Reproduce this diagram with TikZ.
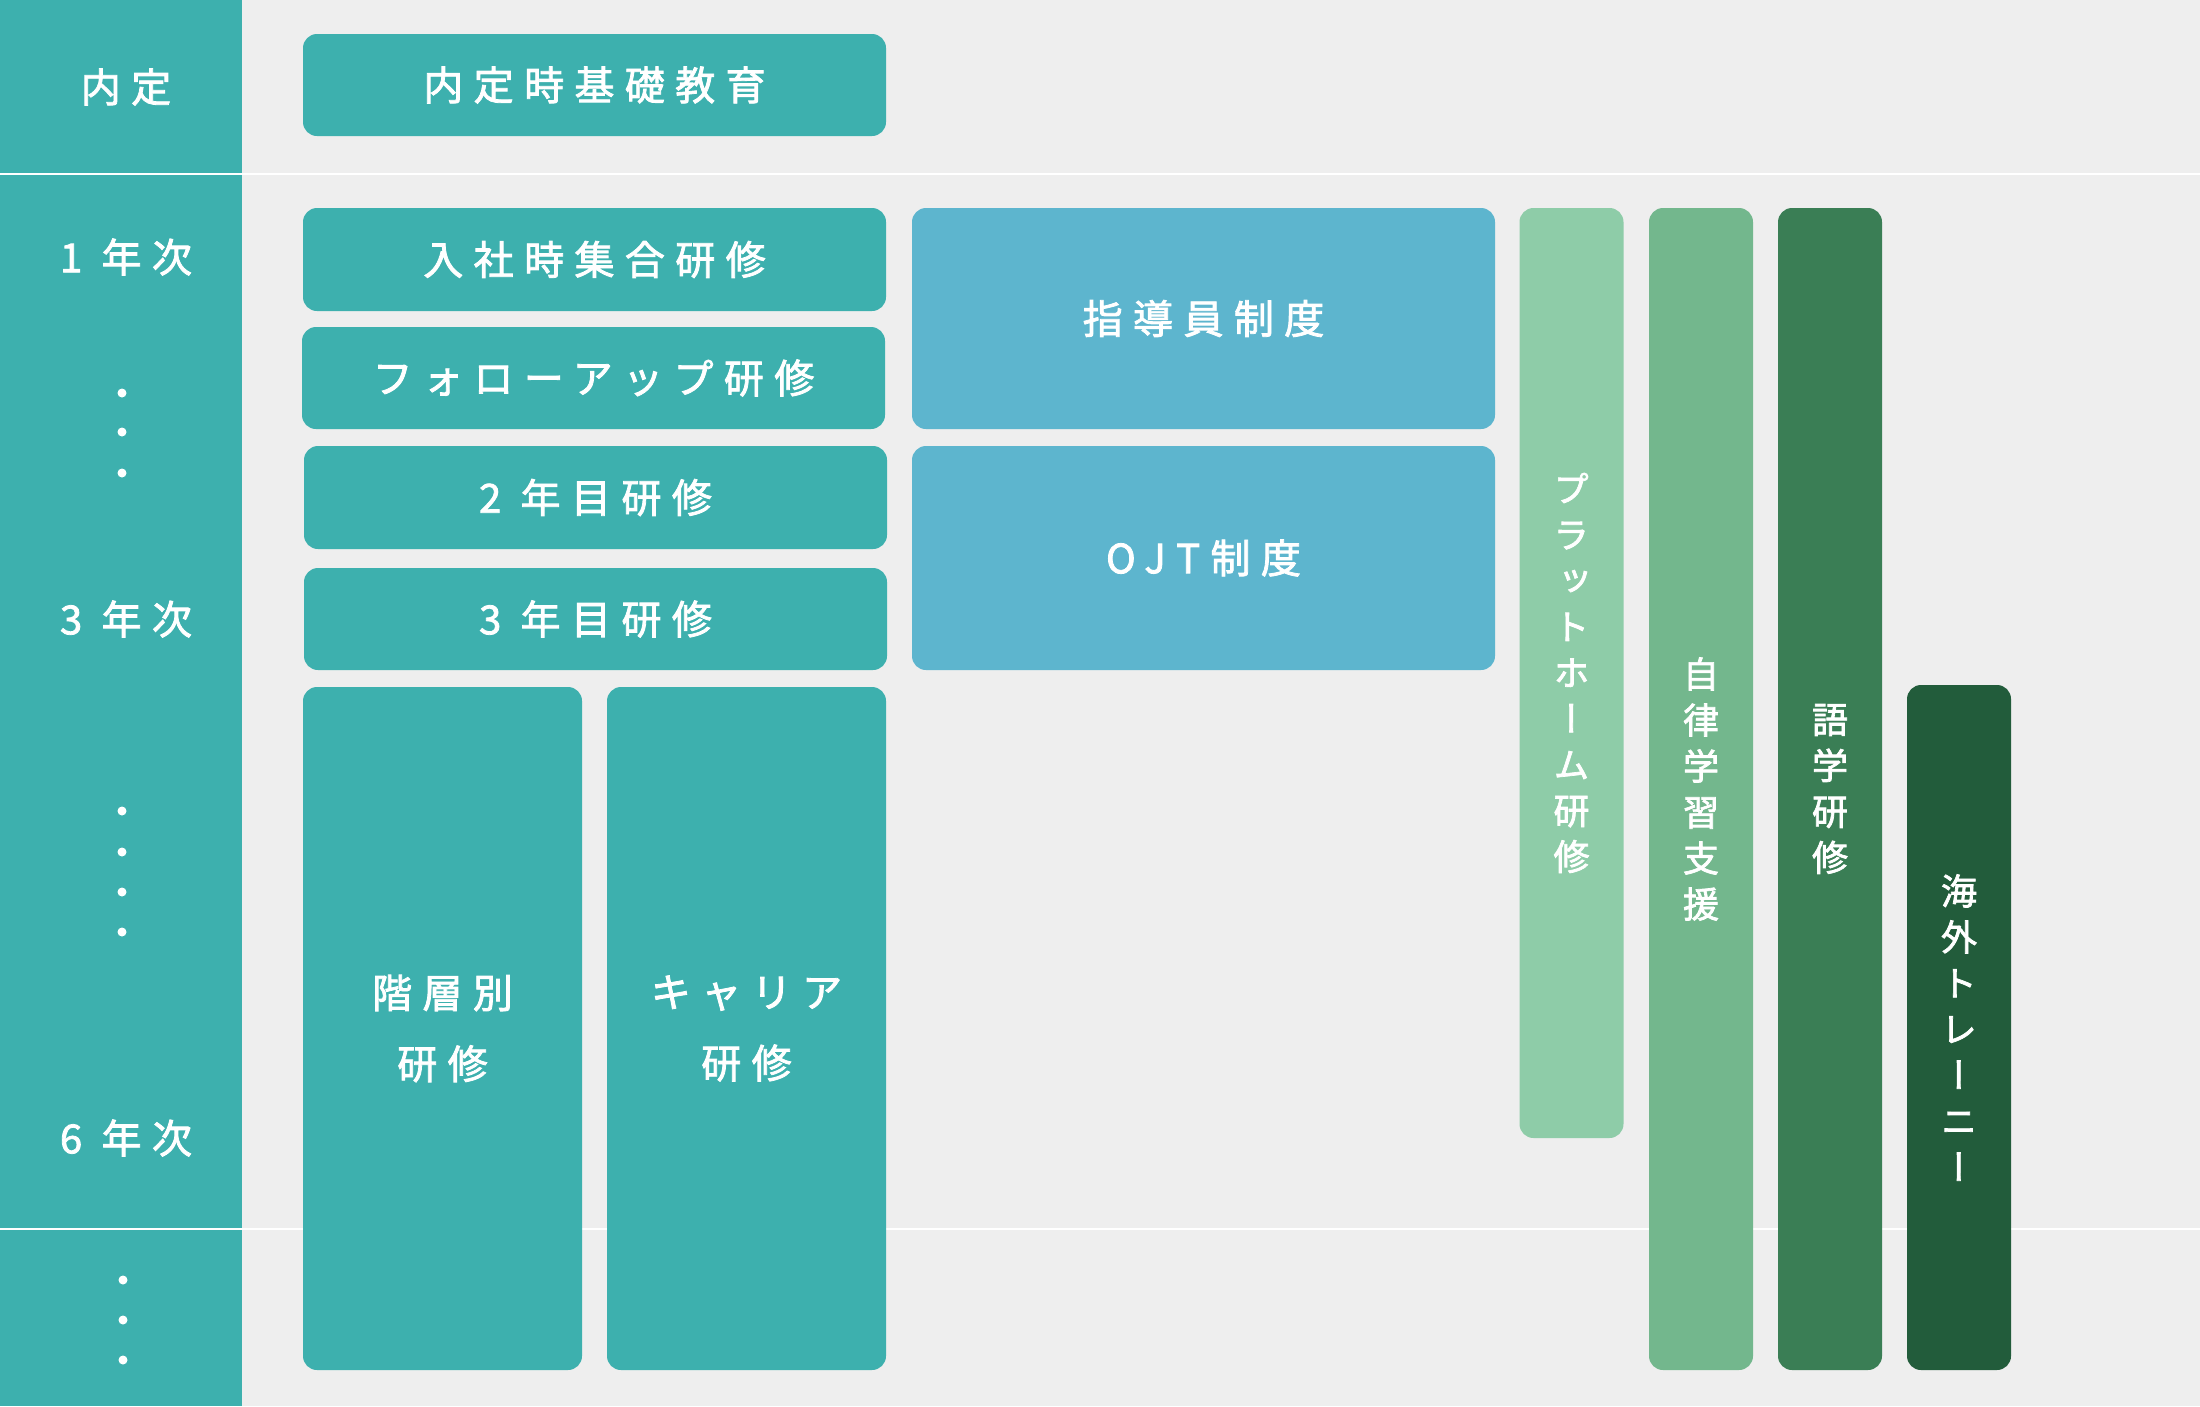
\documentclass[tikz,border=0pt]{standalone}
\usepackage{fontspec}
\newfontfamily\jp{Noto Sans CJK JP}[LetterSpace=26,FakeBold=2]
\newfontfamily\jpv{Noto Sans CJK JP}[RawFeature=+vert,FakeBold=2]
\definecolor{bg}{HTML}{EEEEEE}
\definecolor{teal}{HTML}{3DB0AE}
\definecolor{sky}{HTML}{5DB5CE}
\definecolor{gA}{HTML}{8ECCA8}
\definecolor{gB}{HTML}{73B78D}
\definecolor{gC}{HTML}{3A7E55}
\definecolor{gD}{HTML}{225C3B}
\tikzset{
  box/.style={rounded corners=14pt, inner sep=0pt, text=white, align=center,
    font=\jp\fontsize{40}{71}\selectfont},
  tbox/.style={box, fill=teal},
  bbox/.style={box, fill=sky},
  vbar/.style={rounded corners=14pt, inner sep=0pt, text=white, align=center,
    minimum width=104pt, font=\jpv\fontsize{36}{46}\selectfont},
  ylabel/.style={text=white, inner sep=0pt, font=\jp\fontsize{40}{46}\selectfont},
  dotmark/.style={circle, fill=white, inner sep=0pt, minimum size=9pt},
  sepline/.style={white, line width=2pt}
}
\begin{document}
\begin{tikzpicture}[x=1pt,y=-1pt]
\fill[bg] (0,0) rectangle (2200,1406);
\useasboundingbox (0,0) rectangle (2200,1406);
\fill[teal] (0,0) rectangle (242,1406);
\coordinate (s1l) at (0,174);
\coordinate (s1r) at (2200,174);
\coordinate (s2l) at (0,1229);
\coordinate (s2r) at (2200,1229);
\draw[sepline] (s1l) -- (s1r);
\draw[sepline] (s2l) -- (s2r);
% left column
\node[ylabel] (l0) at (126,87) {内定};
\node[ylabel] (l1) at (126,257) {1 年次};
\node[dotmark] (d1) at (122,393) {};
\node[dotmark] (d2) at (122,432) {};
\node[dotmark] (d3) at (122,473) {};
\node[ylabel] (l3) at (126,619) {3 年次};
\node[dotmark] (d4) at (122,811) {};
\node[dotmark] (d5) at (122,852) {};
\node[dotmark] (d6) at (122,892) {};
\node[dotmark] (d7) at (122,932) {};
\node[ylabel] (l6) at (126,1138) {6 年次};
\node[dotmark] (d8) at (123,1280) {};
\node[dotmark] (d9) at (123,1320) {};
\node[dotmark] (d10) at (123,1360) {};
% teal boxes
\node[tbox, minimum width=583pt, minimum height=102pt] (kiso) at (594.5,85) {内定時基礎教育};
\node[tbox, minimum width=583pt, minimum height=103pt] (nyusha) at (594.5,259.5) {入社時集合研修};
\node[tbox, minimum width=583pt, minimum height=102pt] (follow) at (593.5,378) {フォローアップ研修};
\node[tbox, minimum width=583pt, minimum height=103pt] (y2) at (595.5,497.5) {2 年目研修};
\node[tbox, minimum width=583pt, minimum height=102pt] (y3) at (595.5,619) {3 年目研修};
\node[tbox, minimum width=279pt, minimum height=683pt] (kaiso) at (442.5,1028.5) {階層別\\研修};
\node[tbox, minimum width=279pt, minimum height=683pt] (career) at (746.5,1028.5) {キャリア\\研修};
% blue boxes
\node[bbox, minimum width=583pt, minimum height=221pt] (shido) at (1203.5,318.5) {指導員制度};
\node[bbox, minimum width=583pt, minimum height=224pt] (ojt) at (1203.5,558) {OJT制度};
% green bars
\node[vbar, fill=gA, minimum height=930pt] (plat) at (1571.5,673) {プ\\ラ\\ッ\\ト\\ホ\\ー\\ム\\研\\修};
\node[vbar, fill=gB, minimum height=1162pt] (jiritsu) at (1701,789) {自\\律\\学\\習\\支\\援};
\node[vbar, fill=gC, minimum height=1162pt] (gogaku) at (1830,789) {語\\学\\研\\修};
\node[vbar, fill=gD, minimum height=685pt] (kaigai) at (1959,1027.5) {海\\外\\ト\\レ\\ー\\ニ\\ー};
\end{tikzpicture}
\end{document}
